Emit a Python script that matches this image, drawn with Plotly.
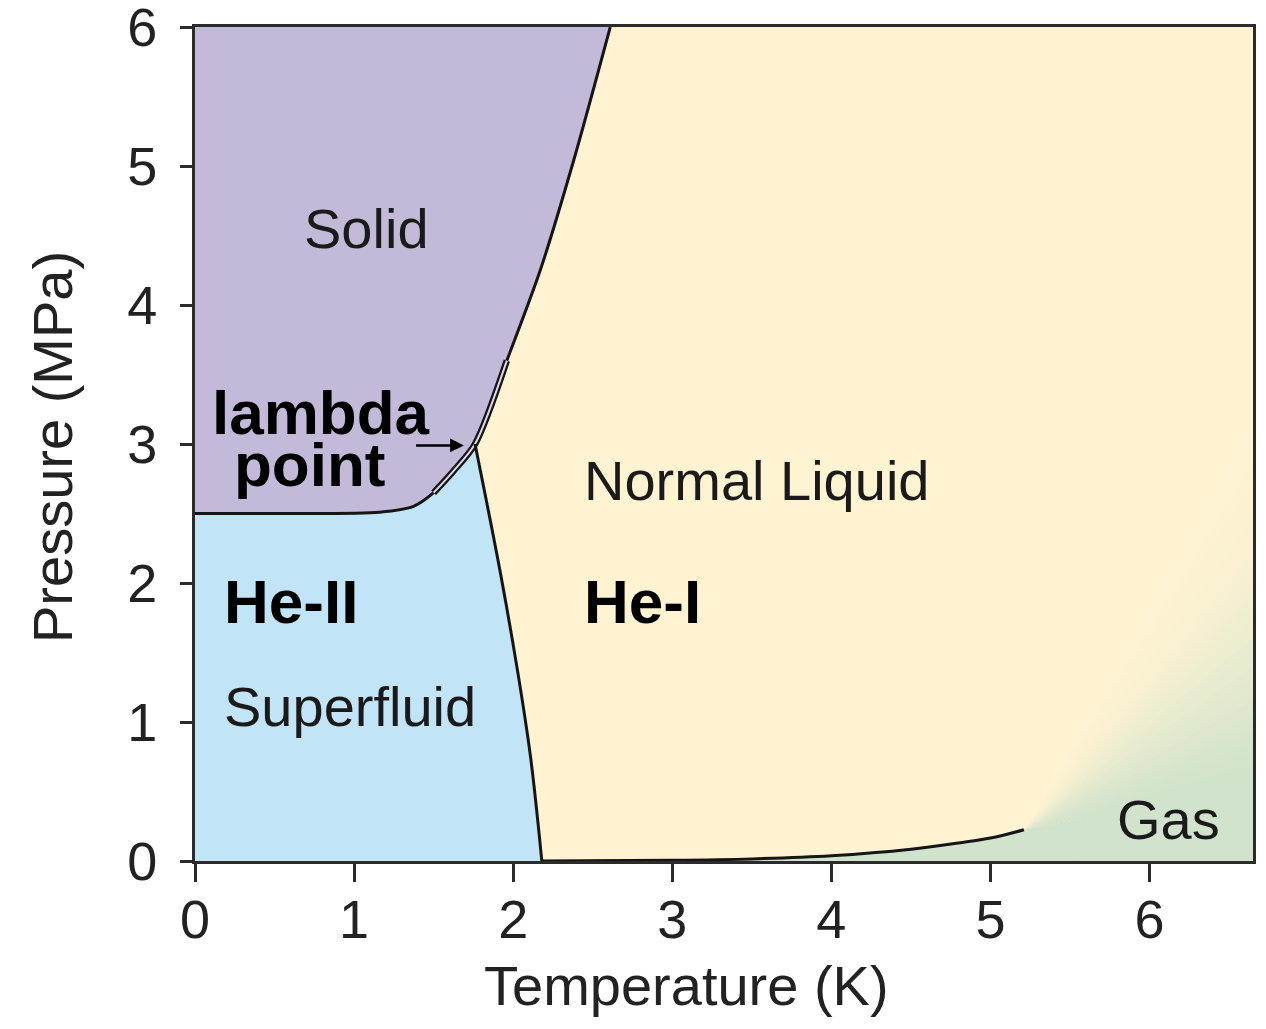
import numpy as np
import plotly.graph_objects as go

# ---------------- data ----------------
# Melting curve (solid boundary), T in K, P in MPa
MELT_T = [0.0, 0.6, 1.16, 1.37, 1.50, 1.62, 1.76, 1.96, 2.17, 2.38, 2.61]
MELT_P = [2.50, 2.50, 2.51, 2.55, 2.65, 2.80, 3.00, 3.60, 4.25, 5.04, 6.00]
# Lambda line (He-II / He-I boundary)
LAMBDA_T = [1.76, 1.92, 2.03, 2.11, 2.18]
LAMBDA_P = [3.00, 2.07, 1.35, 0.74, 0.00]
# Vapour-pressure curve ending at the critical point
VAP_T = [2.18, 3.0, 3.5, 4.0, 4.5, 4.8, 5.0, 5.21]
VAP_P = [0.00, 0.005, 0.015, 0.038, 0.085, 0.13, 0.165, 0.225]

X_TICKS = [0, 1, 2, 3, 4, 5, 6]
Y_TICKS = [0, 1, 2, 3, 4, 5, 6]
X_RANGE = [0, 6.65]
Y_RANGE = [0, 6.0005]

# ---------------- style ----------------
C_SOLID = "#C2BAD8"
C_HE2 = "#C1E5F6"
C_LIQ = "#FFF3D2"
C_GAS = (209, 227, 204)
C_LIQ_RGB = (255, 243, 210)
LINE_C = "#151515"
FONT = "Liberation Sans, Arial, Helvetica, sans-serif"

# page body adds an 8 px margin; size the figure so it fits the 1266x1029 window
W, H = 1250, 1013
ML, MR, MT, MB = 187, 5, 19, 160
PX_X = (W - ML - MR) / (X_RANGE[1] - X_RANGE[0])
PX_Y = (H - MT - MB) / (Y_RANGE[1] - Y_RANGE[0])

fig = go.Figure()

# Solid region
fig.add_trace(go.Scatter(
    x=[0] + MELT_T + [MELT_T[-1], 0], y=[Y_RANGE[1]] + MELT_P + [Y_RANGE[1], Y_RANGE[1]],
    fill="toself", fillcolor=C_SOLID, line=dict(width=0), mode="lines",
    line_shape="spline", hoverinfo="skip", showlegend=False))

# He-II region
i_lam = MELT_T.index(LAMBDA_T[0])
he2_x = [0] + MELT_T[:i_lam + 1] + LAMBDA_T[1:] + [0]
he2_y = [0] + MELT_P[:i_lam + 1] + LAMBDA_P[1:] + [0]
fig.add_trace(go.Scatter(
    x=he2_x, y=he2_y, fill="toself", fillcolor=C_HE2, line=dict(width=0),
    mode="lines", hoverinfo="skip", showlegend=False))

# Gas region: soft fan gradient from green to the liquid colour, anchored at the critical point
vx, vy = VAP_T[-1], VAP_P[-1]
L = 3000.0


def ray(theta_deg):
    t = np.radians(theta_deg)
    return vx + L * np.cos(t) / PX_X, vy + L * np.sin(t) / PX_Y


def mix(f):
    c = [C_GAS[k] + (C_LIQ_RGB[k] - C_GAS[k]) * f for k in range(3)]
    return "rgb(%d,%d,%d)" % tuple(int(round(v)) for v in c)


A_GREEN, A_YELLOW = 10.0, 64.0
ex0, ey0 = ray(-60)
ex1, ey1 = ray(A_GREEN + 0.3)
fig.add_trace(go.Scatter(x=[vx, ex0, ex1, vx], y=[vy, ey0, ey1, vy], fill="toself",
                         fillcolor=mix(0), line=dict(width=0), mode="lines",
                         hoverinfo="skip", showlegend=False))
N = 36
for i in range(N):
    a0 = A_GREEN + (A_YELLOW - A_GREEN) * i / N
    a1 = A_GREEN + (A_YELLOW - A_GREEN) * (i + 1) / N
    f = (i + 0.5) / N
    f = f * f * (3 - 2 * f)
    p0 = ray(a0 - 0.05)
    p1 = ray(a1 + 0.3)
    fig.add_trace(go.Scatter(x=[vx, p0[0], p1[0], vx], y=[vy, p0[1], p1[1], vy],
                             fill="toself", fillcolor=mix(f), line=dict(width=0),
                             mode="lines", hoverinfo="skip", showlegend=False))

# gas under the vapour curve
fig.add_trace(go.Scatter(
    x=VAP_T + [vx + 0.3, vx + 0.3, VAP_T[0]], y=VAP_P + [VAP_P[-1] - 0.03, 0, 0],
    fill="toself", fillcolor=mix(0), line=dict(width=0), mode="lines",
    line_shape="spline", hoverinfo="skip", showlegend=False))

# Phase boundary lines
fig.add_trace(go.Scatter(x=MELT_T, y=MELT_P, mode="lines", line_shape="spline",
                         line=dict(color=LINE_C, width=3, smoothing=0.8),
                         hoverinfo="skip", showlegend=False))
# double-line look near the lambda point
dbl = [k for k, t in enumerate(MELT_T) if 1.40 <= t <= 1.97]
fig.add_trace(go.Scatter(x=[MELT_T[k] for k in dbl], y=[MELT_P[k] for k in dbl], mode="lines",
                         line_shape="spline", line=dict(color=LINE_C, width=6.5, smoothing=0.8),
                         hoverinfo="skip", showlegend=False))
fig.add_trace(go.Scatter(x=[MELT_T[k] for k in dbl], y=[MELT_P[k] for k in dbl], mode="lines",
                         line_shape="spline", line=dict(color="#DCD8E8", width=2, smoothing=0.8),
                         hoverinfo="skip", showlegend=False))
fig.add_trace(go.Scatter(x=LAMBDA_T, y=LAMBDA_P, mode="lines", line_shape="spline",
                         line=dict(color=LINE_C, width=3), hoverinfo="skip", showlegend=False))
fig.add_trace(go.Scatter(x=VAP_T, y=VAP_P, mode="lines", line_shape="spline",
                         line=dict(color=LINE_C, width=3), hoverinfo="skip", showlegend=False))

# Labels
reg = dict(family=FONT, size=56, color="#1a1a1a")
bold = dict(family=FONT, size=62, color="#000000")
ann = [
    dict(x=1.08, y=4.55, text="Solid", font=reg, xanchor="center"),
    dict(x=2.43, y=2.74, text="Normal Liquid", font=reg, xanchor="left"),
    dict(x=2.43, y=1.87, text="<b>He-I</b>", font=bold, xanchor="left"),
    dict(x=0.17, y=1.87, text="<b>He-II</b>", font=bold, xanchor="left"),
    dict(x=0.17, y=1.11, text="Superfluid", font=reg, xanchor="left"),
    dict(x=5.78, y=0.30, text="Gas", font=reg, xanchor="left"),
    dict(x=0.79, y=3.23, text="<b>lambda</b>", font=bold, xanchor="center"),
    dict(x=0.72, y=2.85, text="<b>point</b>", font=bold, xanchor="center"),
]
for a in ann:
    fig.add_annotation(xref="x", yref="y", showarrow=False, yanchor="middle", **a)

fig.add_annotation(xref="x", yref="y", axref="x", ayref="y",
                   x=1.69, y=2.99, ax=1.38, ay=2.99, text="", showarrow=True,
                   arrowhead=2, arrowsize=1.1, arrowwidth=2.5, arrowcolor="#000")

# Axis titles (positions in window pixels, converted to paper coordinates)
OX, OY = 8, 8
fig.add_annotation(xref="paper", yref="paper", x=(686 - OX - ML) / (W - ML - MR),
                   y=-(985 - OY - (H - MB)) / (H - MT - MB), text="Temperature (K)",
                   showarrow=False, font=dict(family=FONT, size=56, color="#222"),
                   xanchor="center", yanchor="middle")
fig.add_annotation(xref="paper", yref="paper", x=-(ML + OX - 52) / (W - ML - MR),
                   y=(H - MB - (447 - OY)) / (H - MT - MB), text="Pressure (MPa)",
                   textangle=-90, showarrow=False,
                   font=dict(family=FONT, size=56, color="#222"),
                   xanchor="center", yanchor="middle")

axis_common = dict(showgrid=False, zeroline=False, showline=True, mirror=True,
                   automargin=False, ticklabeloverflow="allow",
                   linecolor="#2b2b2b", linewidth=3, ticks="outside", tickcolor="#2b2b2b",
                   tickwidth=3, tickfont=dict(family=FONT, size=54, color="#222"))
fig.update_xaxes(range=X_RANGE, tickvals=X_TICKS, ticktext=[str(v) for v in X_TICKS],
                 ticklen=18, ticklabelstandoff=-9, **axis_common)
fig.update_yaxes(range=Y_RANGE, tickvals=Y_TICKS, ticktext=[str(v) for v in Y_TICKS],
                 ticklen=12, ticklabelstandoff=12, **axis_common)

fig.update_layout(width=W, height=H, margin=dict(l=ML, r=MR, t=MT, b=MB, autoexpand=False),
                  plot_bgcolor=C_LIQ, paper_bgcolor="white", showlegend=False)

fig.write_html("out.html")
